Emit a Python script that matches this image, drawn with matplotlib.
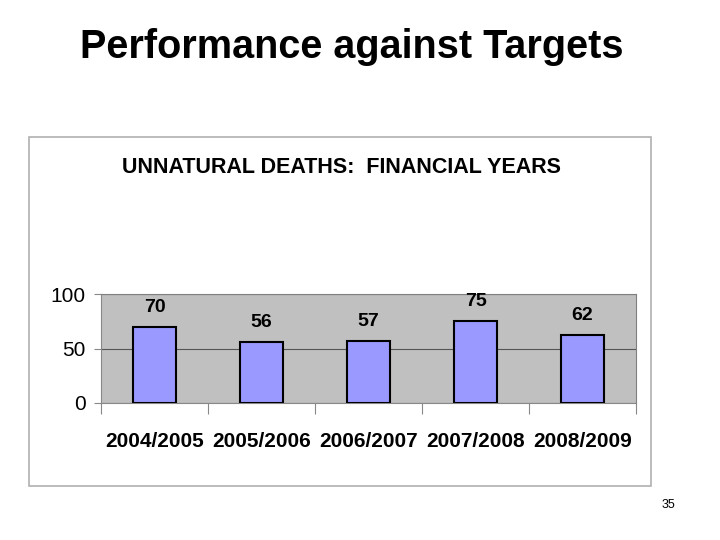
import matplotlib
matplotlib.use("Agg")
import matplotlib.pyplot as plt
from matplotlib.patches import Rectangle

# data
years = ['2004/2005', '2005/2006', '2006/2007', '2007/2008', '2008/2009']
deaths = [70, 56, 57, 75, 62]
y_ticks = [0, 50, 100]

plt.rcParams['font.family'] = ['Liberation Sans', 'DejaVu Sans']

fig = plt.figure(figsize=(7.2, 5.4), dpi=100)

# slide title
fig.text(0.488, 0.913, 'Performance against Targets', ha='center', va='center',
         fontsize=28.5, fontweight='bold')

# chart frame (behind the axes)
frame = Rectangle((29 / 720, 1 - 486 / 540), 622 / 720, 349 / 540, transform=fig.transFigure,
                  facecolor='white', edgecolor='#b0b0b0', linewidth=1.2, zorder=-5)
fig.patches.append(frame)

fig.text(0.474, 0.690, 'UNNATURAL DEATHS:  FINANCIAL YEARS', ha='center', va='center',
         fontsize=15.5, fontweight='bold')

ax = fig.add_axes([101 / 720, 1 - 403 / 540, 535 / 720, 109 / 540])
ax.set_facecolor('#c0c0c0')

x = range(len(years))
ax.bar(x, deaths, width=0.4, color='#9999ff', edgecolor='black', linewidth=1.5, zorder=3)

for xi, v in zip(x, deaths):
    ax.annotate(str(v), (xi, v), xytext=(0, 8), textcoords='offset points', ha='center',
                va='bottom', fontsize=14, fontweight='bold')

ax.set_xlim(-0.5, len(years) - 0.5)
ax.set_ylim(0, 100)
ax.set_yticks(y_ticks)
ax.set_yticklabels([str(t) for t in y_ticks], fontsize=15)
ax.yaxis.grid(True, color='#555555', linewidth=0.8, zorder=1)

ax.set_xticks([i + 0.5 for i in range(-1, len(years))], minor=False)
ax.set_xticklabels([])
ax.set_xticks(list(x), minor=True)
ax.set_xticklabels(years, minor=True, fontsize=15, fontweight='bold')
ax.tick_params(axis='x', which='major', length=8, color='#888888', direction='out')
ax.tick_params(axis='x', which='minor', length=0, pad=21)
ax.tick_params(axis='y', length=5, color='#888888', pad=6)

for side in ['top', 'right']:
    ax.spines[side].set_color('#808080')
for side in ['left', 'bottom']:
    ax.spines[side].set_color('#888888')

fig.text(668 / 720, 1 - 505 / 540, '35', ha='center', va='center', fontsize=9)

fig.savefig('out.png', dpi=100)
